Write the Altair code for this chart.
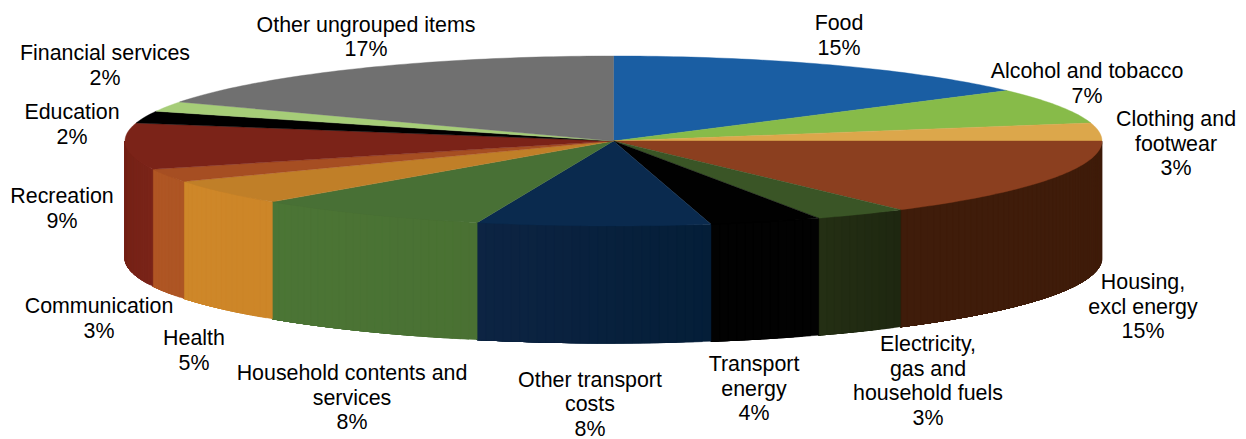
import math
import altair as alt

# Shares of the pie in percent, clockwise from the top
categories = ["Food", "Alcohol and tobacco", "Clothing and footwear", "Housing, excl energy",
              "Electricity, gas and household fuels", "Transport energy", "Other transport costs",
              "Household contents and services", "Health", "Communication", "Recreation",
              "Education", "Financial services", "Other ungrouped items"]
shares = [14.9, 6.7, 3.4, 15.0, 3.1, 3.7, 7.7, 7.8, 4.8, 2.5, 8.8, 2.3, 1.9, 17.4]
percent_labels = ["15%", "7%", "3%", "15%", "3%", "4%", "8%", "8%", "5%", "3%", "9%", "2%", "2%", "17%"]
label_lines = ["Food", "Alcohol and tobacco", "Clothing and\nfootwear", "Housing,\nexcl energy",
               "Electricity,\ngas and\nhousehold fuels", "Transport\nenergy", "Other transport\ncosts",
               "Household contents and\nservices", "Health", "Communication", "Recreation",
               "Education", "Financial services", "Other ungrouped items"]

# Styling
top_colors = ["#1a5ea3", "#87bb49", "#dca74b", "#8b3f1f", "#3a5526", "#010101", "#0a2a4e",
              "#487035", "#c07f28", "#a64e22", "#7b2318", "#000000", "#a6cd78", "#707070"]
wall_left = {3: "#3f1c0a", 4: "#242f14", 5: "#020202", 6: "#0d2443", 7: "#4b7535",
             8: "#ce8729", 9: "#b05624", 10: "#742217"}
wall_right = {3: "#3f1c0a", 4: "#1e2710", 5: "#020202", 6: "#041e38", 7: "#4a7133",
              8: "#cd8628", 9: "#ad5524", 10: "#7a2418"}

# Layout of the tilted disc and of the labels (screen pixels)
CX, CY, RX, RY, DEPTH = 613.5, 141.0, 488.5, 85.0, 117.0
PAGE_MARGIN = 8
FONT = 21.4
LINE_H = 24.5
label_x = [839, 1087, 1176, 1143, 928, 754, 590, 352, 194, 99, 62, 72, 105, 366]
label_y = [24, 72, 120, 283, 345, 365, 380.5, 374, 339, 307, 197, 113, 54, 25.5]


def pt(deg, dy=0.0):
    t = math.radians(deg)
    return [CX + RX * math.sin(t), CY - RY * math.cos(t) + dy]


def feature(ring, color):
    return {"type": "Feature", "properties": {"fill": color},
            "geometry": {"type": "Polygon", "coordinates": [ring + [ring[0]]]}}


def mix(c1, c2, f):
    a = [int(c1[i:i + 2], 16) for i in (1, 3, 5)]
    b = [int(c2[i:i + 2], 16) for i in (1, 3, 5)]
    return "#" + "".join(f"{round(x + (y - x) * f):02x}" for x, y in zip(a, b))


edges = [0.0]
for s in shares:
    edges.append(edges[-1] + s * 3.6)

walls, tops = [], []
for i, color in enumerate(top_colors):
    a, b = edges[i], edges[i + 1]
    n = max(2, int((b - a) / 1.0))
    tops.append(feature([[CX, CY]] + [pt(a + (b - a) * k / n) for k in range(n + 1)], color))
    lo, hi = max(a, 90.0), min(b, 270.0)
    if hi > lo:
        m = max(1, int((hi - lo) / 1.0))
        for k in range(m):
            d0 = lo + (hi - lo) * k / m
            # each strip runs on to the wall's far end, so the next one paints over it with no seam
            steps = m - k
            upper = [pt(d0 + (hi - d0) * j / steps) for j in range(steps + 1)]
            lower = [pt(d0 + (hi - d0) * j / steps, DEPTH) for j in range(steps, -1, -1)]
            walls.append(feature(upper + lower, mix(wall_right[i], wall_left[i], (k + 0.5) / m)))

shape_data = alt.Data(values=walls + tops)
disc = (
    alt.Chart(shape_data)
    .mark_geoshape(strokeWidth=0.4)
    .encode(fill=alt.Fill("properties.fill:N", scale=None),
            stroke=alt.Stroke("properties.fill:N", scale=None))
    .project(type="identity", scale=1, translate=[-PAGE_MARGIN, -PAGE_MARGIN])
)

label_rows = [
    {"text": f"{t}\n{p}", "x": x - PAGE_MARGIN, "y": y - PAGE_MARGIN}
    for t, p, x, y in zip(label_lines, percent_labels, label_x, label_y)
]
labels = (
    alt.Chart(alt.Data(values=label_rows))
    .mark_text(font="Liberation Sans", fontSize=FONT, lineBreak="\n", lineHeight=LINE_H,
               align="center", baseline="middle", color="#000000")
    .encode(x=alt.X("x:Q", scale=None), y=alt.Y("y:Q", scale=None), text="text:N")
)

chart = (
    alt.layer(disc, labels)
    .properties(width=1230, height=431, padding=0, autosize=alt.AutoSizeParams(type="none"),
                background="#ffffff")
    .configure_view(stroke=None)
)
chart.save("out.html", embed_options={"renderer": "svg", "actions": False})
